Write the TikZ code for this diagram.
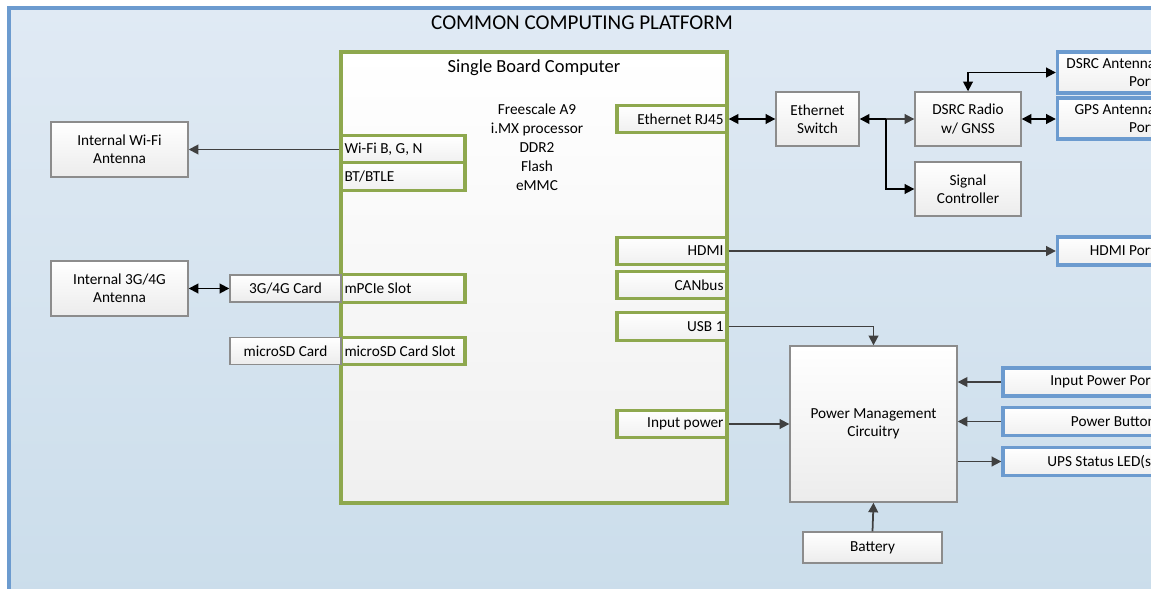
\documentclass[tikz,border=0pt]{standalone}
\usepackage{fontspec}
\setmainfont{Carlito}
\usetikzlibrary{arrows.meta}
\definecolor{platformblue}{HTML}{6C9BCF}
\definecolor{platformtop}{HTML}{E0EAF4}
\definecolor{platformbot}{HTML}{C9DCEA}
\definecolor{sbcgreen}{HTML}{8EA84E}
\definecolor{linkgray}{HTML}{404040}

\begin{document}
\begin{tikzpicture}[x=0.02cm, y=-0.02cm, font=\fontsize{8.7}{10.5}\selectfont,
  box/.style={draw=gray!90, line width=0.8pt, top color=white, bottom color=gray!15, align=center, inner sep=1pt},
  port/.style={draw=sbcgreen, line width=1.9pt, top color=white, bottom color=gray!12, minimum height=0.55cm, inner xsep=2pt, inner ysep=1pt},
  lport/.style={port, text width=2.34cm, align=flush left},
  rport/.style={port, text width=2.06cm, align=flush right},
  extport/.style={draw=platformblue, line width=1.9pt, top color=white, bottom color=gray!12, align=flush right, inner xsep=3pt, inner ysep=1pt},
  link/.style={draw=linkgray, line width=1pt, -{Triangle[length=5.5pt,width=5.5pt]}},
  dlink/.style={draw=black, line width=1pt, {Triangle[length=5.5pt,width=5.5pt]}-{Triangle[length=5.5pt,width=5.5pt]}}]
    \clip (0,0) rectangle (1151,588);
    % platform frame, runs off the page on the right and bottom
    \draw[platformblue, line width=2pt, top color=platformtop, bottom color=platformbot] (9,8) rectangle (1230,650);
    \node (title) at (582,23) {\fontsize{12}{14}\selectfont COMMON COMPUTING PLATFORM};

    % single board computer
    \node[draw=sbcgreen, line width=1.9pt, top color=white, bottom color=gray!12, minimum width=7.72cm, minimum height=9.02cm] (sbc) at (534,277.5) {};
    \node (sbctitle) at (534,68) {\fontsize{10.5}{12}\selectfont Single Board Computer};
    \node[align=center, font=\fontsize{8.7}{10.8}\selectfont] (cpu) at (537,147) {Freescale A9\\i.MX processor\\DDR2\\Flash\\eMMC};
    \node[lport] (wifi) at (403,149.5) {Wi-Fi B, G, N};
    \node[lport] (bt) at (403,176.5) {BT/BTLE};
    \node[lport] (mpcie) at (403,288.5) {mPCIe Slot};
    \node[lport] (sdslot) at (403,351) {microSD Card Slot};
    \node[rport] (eth) at (672,119) {Ethernet RJ45};
    \node[rport] (hdmi) at (672,251) {HDMI};
    \node[rport] (canbus) at (672,285) {CANbus};
    \node[rport] (usb) at (672,326.5) {USB 1};
    \node[rport] (inpow) at (672,424) {Input power};

    % modules around the board
    \node[box, minimum width=2.74cm, minimum height=1.1cm] (wifiant) at (119.5,149.5) {Internal Wi-Fi\\Antenna};
    \node[box, minimum width=2.74cm, minimum height=1.1cm] (ant3g) at (119.5,288.5) {Internal 3G/4G\\Antenna};
    \node[box, minimum width=2.22cm, minimum height=0.54cm] (card3g) at (285.5,288.5) {3G/4G Card};
    \node[box, minimum width=2.22cm, minimum height=0.54cm] (sdcard) at (285.5,351) {microSD Card};
    \node[box, minimum width=1.66cm, minimum height=1.08cm] (switch) at (817.5,119) {Ethernet\\Switch};
    \node[box, minimum width=2.12cm, minimum height=1.08cm] (radio) at (968,119) {DSRC Radio\\w/ GNSS};
    \node[box, minimum width=2.12cm, minimum height=1.08cm] (sigctl) at (968,189) {Signal\\Controller};
    \node[box, minimum width=3.34cm, minimum height=3.12cm] (pmc) at (873.5,424) {Power Management\\Circuitry};
    \node[box, minimum width=2.78cm, minimum height=0.62cm] (battery) at (872.5,547.5) {Battery};

    % external ports on the enclosure
    \node[extport, text width=1.85cm, minimum height=0.82cm] (dsrcant) at (1109,72.5) {DSRC Antenna\\Port};
    \node[extport, text width=1.85cm, minimum height=0.82cm] (gpsant) at (1109,118.5) {GPS Antenna\\Port};
    \node[extport, text width=1.85cm, minimum height=0.56cm] (hdmiport) at (1109,251) {HDMI Port};
    \node[extport, text width=2.95cm, minimum height=0.56cm] (inport) at (1082,382) {Input Power Port};
    \node[extport, text width=2.95cm, minimum height=0.56cm] (button) at (1082,421.5) {Power Button};
    \node[extport, text width=2.95cm, minimum height=0.56cm] (ups) at (1082,461.5) {UPS Status LED(s)};

    \draw[link] (wifi.west) -- (wifiant.east);
    \draw[dlink] (ant3g.east) -- (card3g.west);
    \draw[dlink] (eth.east) -- (switch.west);
    % switch fans out to radio and signal controller
    \coordinate (fork) at (886,119);
    \draw[line width=1pt, {Triangle[length=5.5pt,width=5.5pt]}-] (switch.east) -- (fork);
    \draw[link] (fork) -- (radio.west);
    \draw[link, draw=black] (fork) |- (sigctl.west);
    \draw[dlink] (radio.north) |- (dsrcant.west);
    \draw[dlink] (radio.east) -- (radio.east -| gpsant.west);
    \draw[link] (hdmi.east) -- (hdmiport.west);
    \draw[link] (usb.east) -| (pmc.north);
    \draw[link] (inpow.east) -- (pmc.west);
    \draw[link] (inport.west) -- (inport.west -| pmc.east);
    \draw[link] (button.west) -- (button.west -| pmc.east);
    \draw[link] (pmc.east |- ups.west) -- (ups.west);
    \draw[link] (battery.north) -- (pmc.south);
\end{tikzpicture}
\end{document}
